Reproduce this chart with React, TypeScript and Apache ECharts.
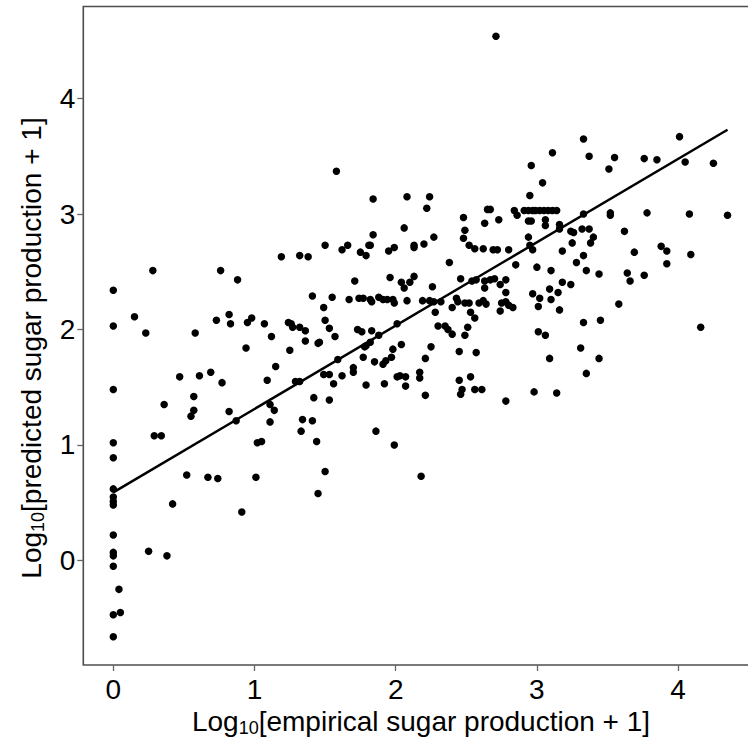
import React, { useEffect, useRef } from "react";
import * as echarts from "echarts";

// Log10[empirical sugar production + 1]
const empirical = [
  1.50, 1.19, 1.32, 1.38, 0.28, 0.76, 0.88, 0, 1.41, 1.49,
  0.15, 0.82, 0.73, 0.83, 0.95, 0.98, 1.07, 1.24, 1.26, 1.27,
  1.32, 1.36, 1.50, 1.53, 0, 0.23, 0.58, 1.12, 0.94, 1.25,
  1.36, 1.45, 1.46, 1.15, 0.47, 0.61, 0.69, 0.77, 1.09, 1.29,
  1.32, 1.49, 1.53, 0, 0.57, 0.36, 0.57, 0.55, 0.82, 1.11,
  1.14, 0.87, 1.11, 1.42, 1.53, 1.34, 1.41, 1.33, 0.29, 0.34,
  0, 1.02, 1.05, 1.44, 0, 0.52, 0.67, 0.74, 1.01, 1.50,
  1.45, 0, 0, 0, 0, 0.42, 0.91, 0, 0.25, 0.38,
  0, 0, 0, 0.04, 0, 0.05, 0, 2.71, 1.58, 2.96,
  1.84, 2.08, 2.24, 2.22, 2.48, 2.49, 2.63, 2.73, 2.65, 2.67,
  2.84, 2.86, 2.95, 3.04, 2.91, 2.94, 2.97, 2.99, 3.02, 3.05,
  3.08, 3.11, 3.14, 2.94, 2.96, 1.84, 2.06, 2.27, 2.48, 2.94,
  1.62, 1.66, 1.75, 1.79, 1.81, 1.82, 1.95, 1.99, 2.13, 2.13,
  2.20, 2.52, 2.56, 2.62, 2.69, 2.72, 2.80, 2.95, 2.97, 2.38,
  2.85, 3.00, 1.71, 1.96, 2.04, 2.10, 2.06, 2.13, 2.26, 2.46,
  2.54, 2.57, 2.63, 2.63, 2.67, 2.70, 2.74, 2.78, 2.78, 2.97,
  1.55, 1.67, 1.74, 1.77, 1.82, 1.83, 1.88, 1.91, 1.94, 1.98,
  1.99, 2.08, 2.19, 2.24, 2.27, 2.32, 2.43, 2.44, 2.49, 2.52,
  2.59, 2.62, 2.64, 2.75, 2.78, 2.80, 2.83, 2.74, 3.02, 3.01,
  2.28, 2.40, 2.53, 2.56, 1.57, 1.73, 1.76, 1.83, 1.88, 2.01,
  2.30, 2.35, 2.37, 2.40, 2.51, 2.49, 3.01, 1.82, 1.79, 1.78,
  1.59, 1.77, 1.85, 1.91, 1.93, 1.98, 1.97, 2.04, 2.25, 2.21,
  2.45, 2.57, 1.56, 1.62, 1.70, 1.70, 1.79, 1.92, 2.01, 2.03,
  2.07, 2.07, 2.17, 2.17, 2.21, 2.45, 2.47, 2.46, 2.53, 2.56,
  2.61, 2.78, 2.98, 1.86, 1.99, 2.18, 3.33, 4.01, 3.11, 3.37,
  3.55, 3.51, 3.76, 3.85, 4.05, 4.25, 3.33, 3.52, 3.52, 3.78,
  4.08, 4.35, 3.06, 3.06, 3.16, 3.16, 3.24, 3.26, 3.32, 3.37,
  3.40, 3.62, 3.25, 3.38, 3.18, 3.28, 3.33, 3.69, 3.88, 3.92,
  3.92, 4.09, 3.10, 3.35, 3.44, 3.64, 3.66, 3.76, 3.18, 3.24,
  3.09, 3.15, 3.10, 3.16, 3.58, 3.33, 3.45, 4.16, 3.06, 3.31,
  3.09, 3.44, 3.35, 3.14,
];

// Log10[predicted sugar production + 1]
const predicted = [
  2.73, 2.63, 2.64, 2.63, 2.51, 2.51, 2.43, 2.34, 2.29, 2.19,
  2.11, 2.13, 2.08, 2.05, 2.06, 2.10, 2.05, 2.06, 2.05, 2.02,
  2.02, 1.99, 2.08, 2.01, 2.03, 1.97, 1.97, 1.94, 1.84, 1.82,
  1.90, 1.88, 1.89, 1.68, 1.59, 1.60, 1.63, 1.54, 1.56, 1.55,
  1.55, 1.61, 1.61, 1.48, 1.42, 1.35, 1.30, 1.25, 1.29, 1.35,
  1.30, 1.21, 1.20, 1.41, 1.39, 1.22, 1.21, 1.12, 1.08, 1.08,
  1.02, 1.02, 1.03, 1.03, 0.89, 0.74, 0.72, 0.71, 0.72, 0.77,
  0.58, 0.62, 0.55, 0.51, 0.48, 0.49, 0.42, 0.22, 0.08, 0.04,
  0.07, 0.04, -0.05, -0.25, -0.47, -0.45, -0.66, 4.54, 3.37, 3.42,
  3.13, 3.15, 3.15, 3.05, 2.97, 2.86, 2.92, 2.95, 3.04, 3.04,
  3.03, 2.99, 3.16, 3.27, 3.03, 3.03, 3.03, 3.03, 3.03, 3.03,
  3.03, 3.03, 3.03, 2.94, 2.94, 2.82, 2.88, 2.80, 2.79, 2.80,
  2.69, 2.73, 2.67, 2.64, 2.73, 2.73, 2.68, 2.71, 2.73, 2.71,
  2.74, 2.73, 2.70, 2.70, 2.69, 2.69, 2.69, 2.73, 2.69, 2.58,
  2.56, 2.54, 2.42, 2.45, 2.41, 2.41, 2.36, 2.46, 2.37, 2.44,
  2.42, 2.43, 2.42, 2.36, 2.43, 2.44, 2.39, 2.43, 2.32, 2.31,
  2.28, 2.26, 2.27, 2.27, 2.26, 2.24, 2.28, 2.26, 2.26, 2.26,
  2.23, 2.25, 2.25, 2.25, 2.24, 2.24, 2.27, 2.24, 2.23, 2.23,
  2.23, 2.25, 2.22, 2.23, 2.24, 2.21, 2.19, 2.16, 2.27, 2.20,
  2.15, 2.19, 2.15, 2.10, 1.94, 2.00, 1.98, 1.99, 1.95, 2.05,
  2.03, 2.03, 2.00, 1.96, 2.02, 1.95, 1.98, 1.89, 1.86, 1.85,
  1.74, 1.76, 1.72, 1.70, 1.73, 1.83, 1.76, 1.87, 1.85, 1.75,
  1.81, 1.80, 1.53, 1.60, 1.67, 1.63, 1.52, 1.53, 1.59, 1.60,
  1.59, 1.51, 1.63, 1.58, 1.43, 1.56, 1.48, 1.44, 1.59, 1.48,
  1.48, 1.38, 1.46, 1.12, 1.00, 0.73, 3.65, 3.67, 3.53, 3.50,
  3.49, 3.39, 3.48, 3.47, 3.45, 3.44, 3.00, 3.01, 2.99, 3.01,
  3.00, 2.99, 2.95, 2.90, 2.91, 2.87, 2.85, 2.84, 2.87, 2.87,
  2.80, 2.85, 2.75, 2.75, 2.68, 2.58, 2.64, 2.67, 2.72, 2.68,
  2.57, 2.65, 2.51, 2.51, 2.48, 2.49, 2.42, 2.47, 2.41, 2.39,
  2.35, 2.32, 2.26, 2.17, 2.22, 2.06, 2.08, 2.02, 1.95, 1.84,
  1.75, 1.75, 1.62, 1.45,
];

// fitted regression line end points
const fitEmpirical = [0, 4.35];
const fitPredicted = [0.59, 3.73];

const xTicks = [0, 1, 2, 3, 4];
const yTicks = [0, 1, 2, 3, 4];

const FONT = "'Liberation Sans', Arial, Helvetica, sans-serif";

export default function App() {
  const ref = useRef<HTMLDivElement>(null);

  useEffect(() => {
    if (!ref.current) return;
    const chart = echarts.init(ref.current, null, { renderer: "svg" });
    const points = empirical.map((x, i) => [x, predicted[i]]);
    const fit = fitEmpirical.map((x, i) => [x, fitPredicted[i]]);

    const titleRich = {
      a: { fontSize: 28, fontFamily: FONT, fill: "#000", lineHeight: 32 },
      b: { fontSize: 18, fontFamily: FONT, fill: "#000", lineHeight: 18, verticalAlign: "bottom" },
    };

    chart.setOption({
      animation: false,
      backgroundColor: "#ffffff",
      grid: {
        left: 83.3,
        top: 6.5,
        width: 676.7,
        height: 658.5,
        show: true,
        borderColor: "#4d4d4d",
        borderWidth: 1.6,
        backgroundColor: "transparent",
        containLabel: false,
        outerBoundsMode: "none",
      },
      xAxis: {
        type: "value",
        position: "bottom",
        min: -0.2125,
        max: 4.58,
        axisLine: { show: false, onZero: false },
        splitLine: { show: false },
        axisTick: {
          show: true,
          customValues: xTicks,
          length: 6,
          inside: false,
          lineStyle: { color: "#666666", width: 1.3 },
        },
        axisLabel: {
          customValues: xTicks,
          fontSize: 28,
          color: "#000000",
          fontFamily: FONT,
          margin: 10,
        },
      },
      yAxis: {
        type: "value",
        position: "left",
        min: -0.905,
        max: 4.797,
        axisLine: { show: false, onZero: false },
        splitLine: { show: false },
        axisTick: {
          show: true,
          customValues: yTicks,
          length: 6,
          inside: false,
          lineStyle: { color: "#666666", width: 1.3 },
        },
        axisLabel: {
          customValues: yTicks,
          fontSize: 28,
          color: "#000000",
          fontFamily: FONT,
          margin: 8,
        },
      },
      graphic: [
        {
          type: "text",
          x: 421,
          y: 721,
          style: {
            text: "{a|Log}{b|10}{a|[empirical sugar production + 1]}",
            align: "center",
            verticalAlign: "middle",
            rich: titleRich,
          },
        },
        {
          type: "text",
          x: 31,
          y: 348,
          rotation: Math.PI / 2,
          style: {
            text: "{a|Log}{b|10}{a|[predicted sugar production + 1]}",
            align: "center",
            verticalAlign: "middle",
            rich: titleRich,
          },
        },
      ],
      series: [
        {
          type: "scatter",
          data: points,
          symbol: "circle",
          symbolSize: 7.5,
          itemStyle: { color: "#000000", opacity: 1 },
          silent: true,
        },
        {
          type: "line",
          data: fit,
          symbol: "none",
          lineStyle: { color: "#000000", width: 2.5 },
          silent: true,
        },
      ],
    });

    return () => chart.dispose();
  }, []);

  return (
    <div
      ref={ref}
      style={{ position: "absolute", left: 0, top: 0, width: 748, height: 747 }}
    />
  );
}
